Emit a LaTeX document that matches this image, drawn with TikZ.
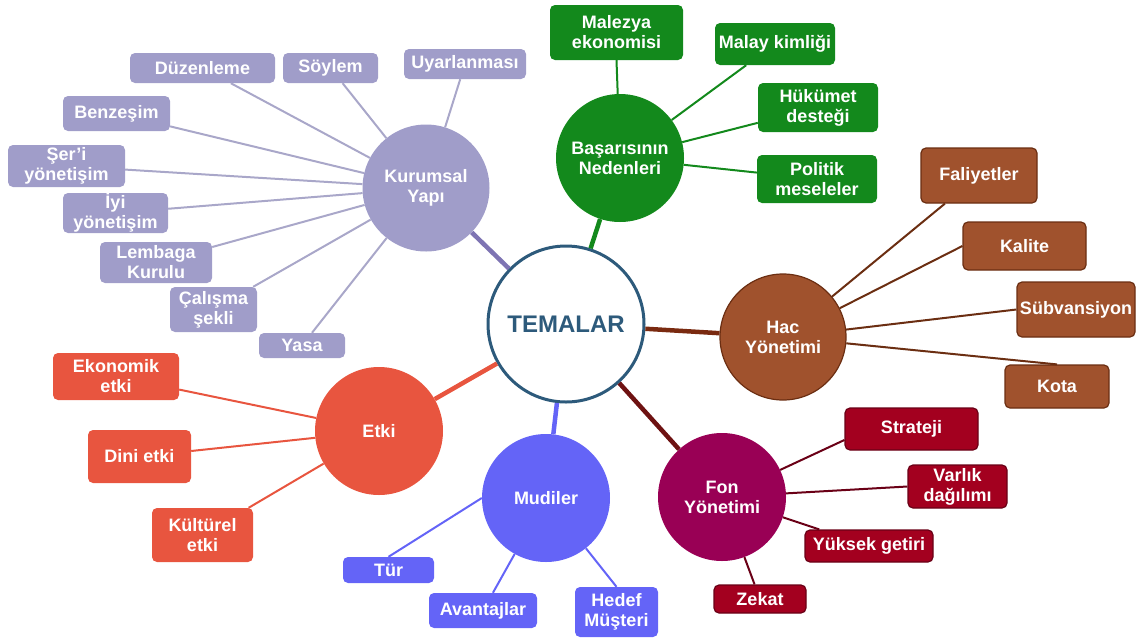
\documentclass[tikz,border=0pt]{standalone}
\usepackage{fontspec}
\setmainfont{Liberation Sans}
\definecolor{lav}{HTML}{A09DC9}
\definecolor{lavline}{HTML}{A9A7C9}
\definecolor{lavhub}{HTML}{7E74B3}
\definecolor{grn}{HTML}{13891C}
\definecolor{brn}{HTML}{A0522D}
\definecolor{brnd}{HTML}{6B2E12}
\definecolor{brnhub}{HTML}{7A2A10}
\definecolor{fonc}{HTML}{990055}
\definecolor{fonbox}{HTML}{A3001F}
\definecolor{fond}{HTML}{6A0016}
\definecolor{fonhub}{HTML}{6E1212}
\definecolor{mudc}{HTML}{6464F7}
\definecolor{etk}{HTML}{E8553F}
\definecolor{tema}{HTML}{2D5A7B}
\newcommand{\lblfont}{\fontsize{18}{20}\selectfont\bfseries}
\tikzset{
  hub/.style={circle, fill=#1, text=white, align=center, inner sep=0pt,
    minimum size=128pt, font=\lblfont},
  leaf/.style n args={3}{rectangle, rounded corners=5pt, fill=#1, text=white,
    align=center, inner sep=0pt, minimum width=#2pt, minimum height=#3pt,
    font=\lblfont},
  edged/.style={draw=#1, line width=1.2pt},
  twig/.style={draw=#1, line width=2pt},
  trunk/.style={draw=#1, line width=4.5pt}
}
\begin{document}
\begin{tikzpicture}[x=1pt, y=-1pt]
\useasboundingbox (0,0) rectangle (1136,638);

% central theme
\node[circle, draw=tema, line width=3pt, fill=white, minimum size=156pt,
  inner sep=0pt, text=tema, font=\fontsize{24}{26}\selectfont\bfseries]
  (tem) at (566,324) {TEMALAR};

% sub-themes
\node[hub=lav, minimum size=127pt] (kur) at (426,188) {Kurumsal\\Yapı};
\node[hub=grn] (bas) at (620,158) {Başarısının\\Nedenleri};
\node[hub=brn, edged=brnd, minimum size=126pt] (hac) at (783,337) {Hac\\Yönetimi};
\node[hub=fonc] (fon) at (722,497) {Fon\\Yönetimi};
\node[hub=mudc] (mud) at (546,498) {Mudiler};
\node[hub=etk] (etki) at (379,431) {Etki};

% Kurumsal Yapı
\node[leaf={lav}{145}{30}] (duz) at (202.5,68) {Düzenleme};
\node[leaf={lav}{95}{30}] (soy) at (330.5,68) {Söylem};
\node[leaf={lav}{122}{30}] (uya) at (465,64) {Uyarlanması};
\node[leaf={lav}{107}{35}] (ben) at (116.5,113.5) {Benzeşim};
\node[leaf={lav}{117}{42}] (ser) at (66.5,166) {Şer{\char39}i\\yönetişim};
\node[leaf={lav}{105}{40}] (iyi) at (115.5,213) {İyi\\yönetişim};
\node[leaf={lav}{112}{41}] (lem) at (156,262.5) {Lembaga\\Kurulu};
\node[leaf={lav}{87}{45}] (cal) at (213.5,309.5) {Çalışma\\şekli};
\node[leaf={lav}{86}{25}] (yas) at (302,345.5) {Yasa};

% Başarısının Nedenleri
\node[leaf={grn}{133}{55}] (mal) at (616.5,32.5) {Malezya\\ekonomisi};
\node[leaf={grn}{120}{42}] (kim) at (775,44) {Malay kimliği};
\node[leaf={grn}{120}{49}] (huk) at (818,107.5) {Hükümet\\desteği};
\node[leaf={grn}{120}{48}] (pol) at (817,179) {Politik\\meseleler};

% Hac Yönetimi
\node[leaf={brn}{116}{55}, edged=brnd] (fal) at (979,175.5) {Faliyetler};
\node[leaf={brn}{123}{48}, edged=brnd] (kal) at (1024.5,246) {Kalite};
\node[leaf={brn}{118}{55}, edged=brnd] (sub) at (1076,309.5) {Sübvansiyon};
\node[leaf={brn}{104}{43}, edged=brnd] (kot) at (1057,386.5) {Kota};

% Fon Yönetimi
\node[leaf={fonbox}{133}{42}, edged=fond] (str) at (911.5,429) {Strateji};
\node[leaf={fonbox}{99}{43}, edged=fond] (var) at (957.5,486.5) {Varlık\\dağılımı};
\node[leaf={fonbox}{128}{32}, edged=fond] (yuk) at (869,546) {Yüksek getiri};
\node[leaf={fonbox}{92}{28}, edged=fond] (zek) at (760,599) {Zekat};

% Mudiler
\node[leaf={mudc}{91}{26}] (tur) at (388.5,570) {Tür};
\node[leaf={mudc}{108}{35}] (ava) at (483,610.5) {Avantajlar};
\node[leaf={mudc}{83}{50}] (hed) at (616.5,612) {Hedef\\Müşteri};

% Etki
\node[leaf={etk}{126}{47}] (eko) at (116,376.5) {Ekonomik\\etki};
\node[leaf={etk}{103}{53}] (din) at (139.5,456.5) {Dini etki};
\node[leaf={etk}{101}{54}] (kul) at (202.5,535) {Kültürel\\etki};

% trunks from the centre
\draw[trunk=lavhub] (tem) -- (kur);
\draw[trunk=grn] (tem) -- (bas);
\draw[trunk=brnhub] (tem) -- (hac);
\draw[trunk=fonhub] (tem) -- (fon);
\draw[trunk=mudc] (tem) -- (mud);
\draw[trunk=etk] (tem) -- (etki);

% twigs
\foreach \n in {duz,soy,uya,ben,ser,iyi,lem,cal,yas}
  \draw[twig=lavline] (\n) -- (kur);
\foreach \n in {kim,huk,pol}
  \draw[twig=grn] (\n) -- (bas);
\draw[twig=grn] (mal.south) -- (bas);
\draw[twig=brnd] (fal) -- (hac);
\draw[twig=brnd] (kal.west) -- (hac);
\draw[twig=brnd] (sub.west) -- (hac);
\draw[twig=brnd] (kot.north) -- (hac);
\draw[twig=fond] ([yshift=-11pt]str.west) -- (fon);
\draw[twig=fond] (var.west) -- (fon);
\draw[twig=fond] (yuk) -- (fon);
\draw[twig=fond] (zek) -- (fon);
\draw[twig=mudc] (tur.north) -- (mud.west);
\draw[twig=mudc] (ava) -- (mud);
\draw[twig=mudc] (hed.north) -- (mud);
\foreach \n in {eko,din,kul}
  \draw[twig=etk] (\n) -- (etki);
\end{tikzpicture}
\end{document}
